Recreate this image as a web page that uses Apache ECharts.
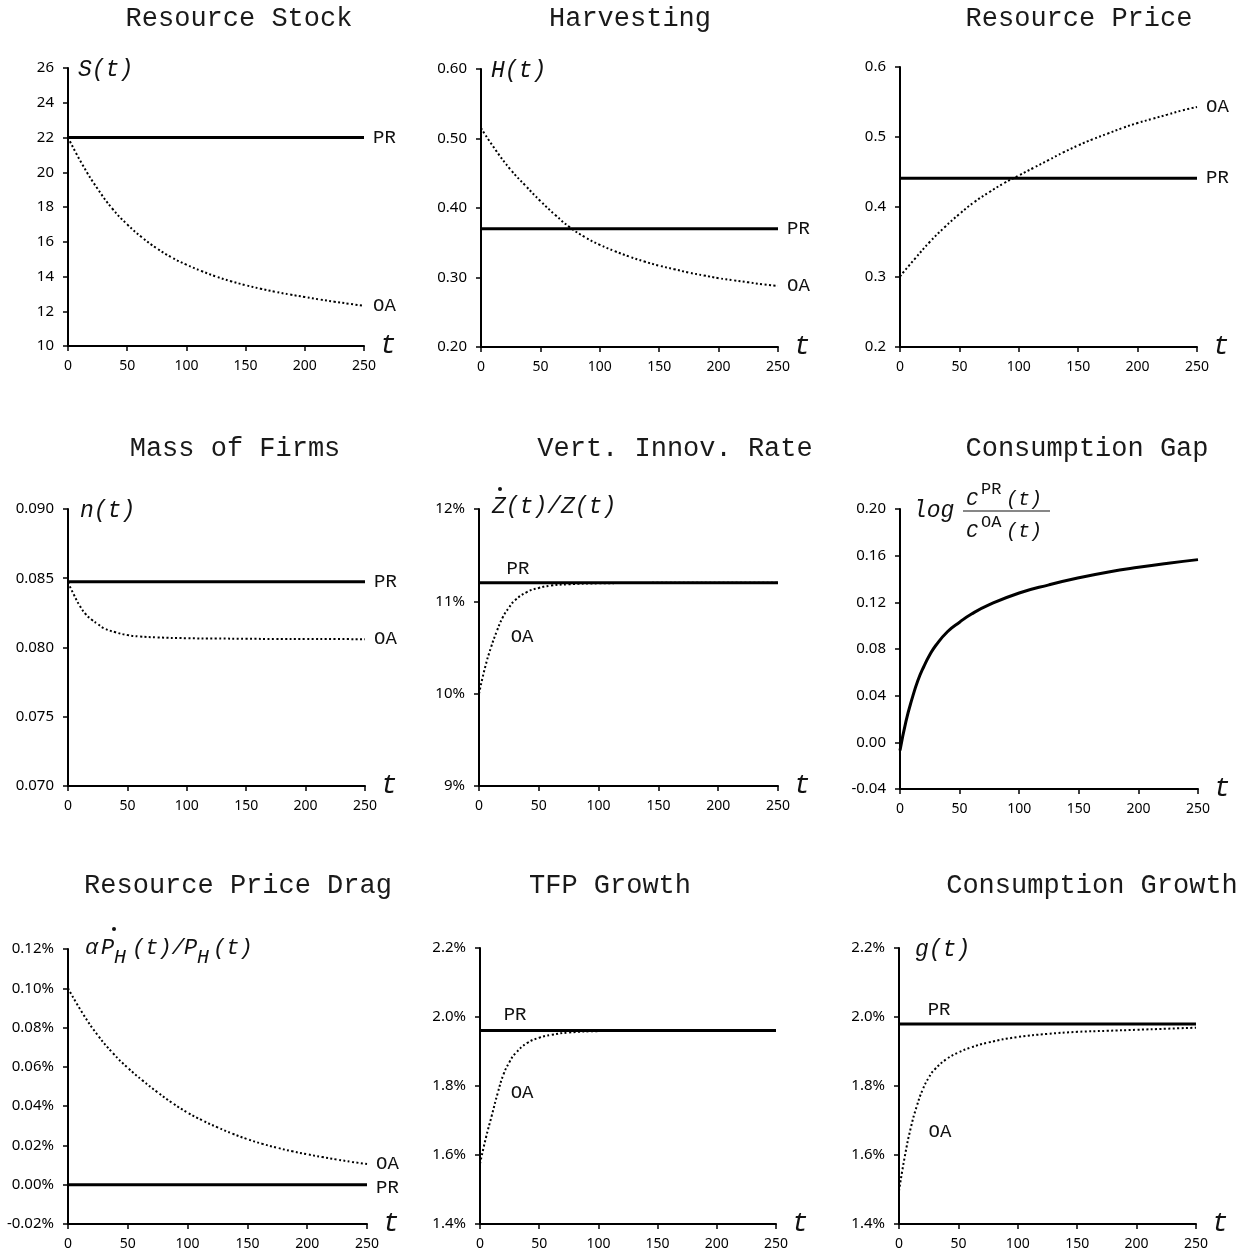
<!DOCTYPE html>
<html>
<head>
<meta charset="utf-8">
<title>Transition dynamics: PR vs OA</title>
<script src="https://cdn.jsdelivr.net/npm/echarts@6/dist/echarts.min.js"></script>
<style>
  html, body { margin: 0; padding: 0; background: #fff; }
  #main { width: 1256px; height: 1255px; }
</style>
</head>
<body>
<div id="main"></div>
<script>
// time points (t) used when reading the curves
var tSlow = [0, 12.5, 25, 37.5, 50, 62.5, 75, 87.5, 100, 112.5, 125, 137.5, 150, 162.5, 175, 187.5, 200, 212.5, 225, 237.5, 250];
var tFast = [0, 5, 10, 15, 20, 25, 30, 40, 50, 60, 75, 100, 125, 150, 175, 200, 225, 250];
var xTicks = [0, 50, 100, 150, 200, 250];

// Resource Stock S(t)
var stockOA = [22.0, 20.4, 19.05, 17.9, 17.0, 16.25, 15.62, 15.1, 14.68, 14.32, 14.0, 13.73, 13.5, 13.3, 13.12, 12.96, 12.82, 12.68, 12.55, 12.43, 12.31];
var stockPR = 22.0;
// Harvesting H(t)
var harvOA = [0.515, 0.483, 0.455, 0.432, 0.410, 0.390, 0.372, 0.358, 0.347, 0.338, 0.330, 0.323, 0.317, 0.312, 0.307, 0.303, 0.299, 0.296, 0.293, 0.290, 0.288];
var harvPR = 0.370;
// Resource Price
var priceOA = [0.301, 0.326, 0.350, 0.371, 0.390, 0.407, 0.421, 0.434, 0.445, 0.456, 0.467, 0.478, 0.488, 0.497, 0.505, 0.513, 0.520, 0.526, 0.532, 0.538, 0.543];
var pricePR = 0.441;
// Mass of Firms n(t)
var firmsOA = [0.0847, 0.0838, 0.0830, 0.0824, 0.0820, 0.0817, 0.0814, 0.0811, 0.0809, 0.0808, 0.08073, 0.08067, 0.08065, 0.08063, 0.08062, 0.08062, 0.08061, 0.0806];
var firmsPR = 0.08475;
// Vert. Innov. Rate (%)
var innovOA = [10.0, 10.28, 10.5, 10.68, 10.83, 10.93, 11.01, 11.1, 11.145, 11.17, 11.185, 11.195, 11.198, 11.2, 11.2, 11.2, 11.2, 11.2];
var innovPR = 11.2;
// Consumption Gap log(C_PR/C_OA)
var gapPath = [-0.007, 0.018, 0.037, 0.053, 0.065, 0.075, 0.083, 0.095, 0.103, 0.110, 0.118, 0.128, 0.135, 0.141, 0.146, 0.150, 0.1535, 0.1566];
// Resource Price Drag (%)
var dragOA = [0.100, 0.087, 0.076, 0.067, 0.0595, 0.053, 0.047, 0.0415, 0.0367, 0.0327, 0.0292, 0.026, 0.0232, 0.0208, 0.0188, 0.017, 0.0155, 0.0141, 0.0128, 0.0116, 0.0105];
var dragPR = 0.0;
// TFP Growth (%)
var tfpOA = [1.575, 1.65, 1.715, 1.78, 1.835, 1.87, 1.895, 1.925, 1.94, 1.948, 1.955, 1.959, 1.96, 1.961, 1.961, 1.961, 1.961, 1.961];
var tfpPR = 1.961;
// Consumption Growth g(t) (%)
var growthOA = [1.496, 1.598, 1.68, 1.742, 1.79, 1.824, 1.848, 1.878, 1.897, 1.911, 1.926, 1.942, 1.951, 1.957, 1.960, 1.963, 1.966, 1.969];
var growthPR = 1.980;

var MONO = '"Courier New", "Liberation Mono", monospace';
var SANS = '"Noto Sans", "Open Sans", sans-serif';

function pairs(ts, vs) {
    return ts.map(function (t, i) { return [t, vs[i]]; });
}
function flat(v) {
    return [[xTicks[0], v], [xTicks[xTicks.length - 1], v]];
}

// panel layout: [left, top, width, height]
var panels = [
    { box: [68, 68, 296, 278], title: 'Resource Stock', cx: 239, ty: 5,
      y: { min: 10, max: 26, interval: 2, fmt: function (v) { return Math.round(v) + ''; } }, name: 'S(t)', namePad: 10 },
    { box: [481, 69, 297, 278], title: 'Harvesting', cx: 630, ty: 5,
      y: { min: 0.2, max: 0.6, interval: 0.1, fmt: function (v) { return v.toFixed(2); } }, name: 'H(t)', namePad: 10 },
    { box: [900, 67, 297, 280], title: 'Resource Price', cx: 1079, ty: 5,
      y: { min: 0.2, max: 0.6, interval: 0.1, fmt: function (v) { return v.toFixed(1); } } },
    { box: [68, 509, 297, 277], title: 'Mass of Firms', cx: 235, ty: 435,
      y: { min: 0.07, max: 0.09, interval: 0.005, fmt: function (v) { return v.toFixed(3); } }, name: 'n(t)', namePad: 12 },
    { box: [479, 509, 299, 277], title: 'Vert. Innov. Rate', cx: 675, ty: 435,
      y: { min: 9, max: 12, interval: 1, fmt: function (v) { return v.toFixed(0) + '%'; } } },
    { box: [900, 509, 298, 280], title: 'Consumption Gap', cx: 1087, ty: 435,
      y: { min: -0.04, max: 0.2, interval: 0.04, fmt: function (v) { return v.toFixed(2); } } },
    { box: [68, 949, 299, 275], title: 'Resource Price Drag', cx: 238, ty: 872,
      y: { min: -0.02, max: 0.12, interval: 0.02, fmt: function (v) { return v.toFixed(2) + '%'; } } },
    { box: [480, 948, 296, 276], title: 'TFP Growth', cx: 610, ty: 872,
      y: { min: 1.4, max: 2.2, interval: 0.2, fmt: function (v) { return v.toFixed(1) + '%'; } } },
    { box: [899, 948, 297, 276], title: 'Consumption Growth', cx: 1092, ty: 872,
      y: { min: 1.4, max: 2.2, interval: 0.2, fmt: function (v) { return v.toFixed(1) + '%'; } }, name: 'g(t)', namePad: 16 }
];

var grids = [], xAxes = [], yAxes = [], titles = [];
panels.forEach(function (p, i) {
    grids.push({ left: p.box[0], top: p.box[1], width: p.box[2], height: p.box[3] });
    titles.push({
        text: p.title, left: p.cx, top: p.ty, textAlign: 'center', padding: 0,
        textStyle: { fontFamily: MONO, fontSize: 27, fontWeight: 'normal', color: '#1a1a1a' }
    });
    xAxes.push({
        gridIndex: i, type: 'value', min: 0, max: 250, interval: 50,
        name: 't', nameLocation: 'end', nameGap: 12,
        nameTextStyle: { fontFamily: MONO, fontStyle: 'italic', fontSize: 27, color: '#111', verticalAlign: 'middle' },
        axisLine: { onZero: false, lineStyle: { color: '#000', width: 2 } },
        axisTick: { show: true, length: 5, lineStyle: { color: '#000', width: 1.5 } },
        axisLabel: { margin: 13, fontFamily: SANS, fontSize: 14, color: '#000' },
        splitLine: { show: false }
    });
    var ya = {
        gridIndex: i, type: 'value', min: p.y.min, max: p.y.max, interval: p.y.interval,
        axisLine: { show: true, onZero: false, lineStyle: { color: '#000', width: 2 } },
        axisTick: { show: true, length: 5, lineStyle: { color: '#000', width: 1.5 } },
        axisLabel: { margin: 14, fontFamily: SANS, fontSize: 15, color: '#000', formatter: p.y.fmt },
        splitLine: { show: false }
    };
    if (p.name) {
        ya.name = p.name;
        ya.nameLocation = 'end';
        ya.nameGap = -2;
        ya.nameTextStyle = {
            fontFamily: MONO, fontStyle: 'italic', fontSize: 23, color: '#111',
            align: 'left', verticalAlign: 'middle', padding: [0, 0, 0, p.namePad]
        };
    }
    yAxes.push(ya);
});

var endLbl = { fontFamily: MONO, fontSize: 19, color: '#111', distance: 9 };
function endLabel(text, extra) {
    return Object.assign({ show: true, formatter: text }, endLbl, extra || {});
}
function prLine(i, v, lbl) {
    return {
        type: 'line', xAxisIndex: i, yAxisIndex: i, data: flat(v), symbol: 'none', silent: true,
        lineStyle: { color: '#000', width: 3 }, endLabel: lbl, z: 3
    };
}
function oaLine(i, ts, vs, lbl) {
    return {
        type: 'line', xAxisIndex: i, yAxisIndex: i, data: pairs(ts, vs), symbol: 'none', silent: true,
        smooth: 0.5,
        lineStyle: { color: '#000', width: 2, type: [2, 2.4] }, endLabel: lbl, z: 2
    };
}
function tag(text, coord) {
    return {
        symbol: 'circle', symbolSize: 0, silent: true,
        label: { show: true, position: 'inside', fontFamily: MONO, fontSize: 19, color: '#111' },
        data: [{ coord: coord, label: { formatter: text } }]
    };
}

var series = [
    prLine(0, stockPR, endLabel('PR')), oaLine(0, tSlow, stockOA, endLabel('OA')),
    prLine(1, harvPR, endLabel('PR')), oaLine(1, tSlow, harvOA, endLabel('OA')),
    prLine(2, pricePR, endLabel('PR')), oaLine(2, tSlow, priceOA, endLabel('OA')),
    prLine(3, firmsPR, endLabel('PR')), oaLine(3, tFast, firmsOA, endLabel('OA')),
    prLine(4, innovPR), oaLine(4, tFast, innovOA),
    {
        type: 'line', xAxisIndex: 5, yAxisIndex: 5, data: pairs(tFast, gapPath), symbol: 'none',
        smooth: 0.5, silent: true, lineStyle: { color: '#000', width: 3 }
    },
    prLine(6, dragPR, endLabel('PR', { offset: [0, 3] })), oaLine(6, tSlow, dragOA, endLabel('OA')),
    prLine(7, tfpPR), oaLine(7, tFast, tfpOA),
    prLine(8, growthPR), oaLine(8, tFast, growthOA)
];
// inline PR / OA tags in the growth panels
series[8].markPoint = tag('PR', [32.6, 11.35]);
series[9].markPoint = tag('OA', [36, 10.61]);
series[13].markPoint = tag('PR', [29.6, 2.006]);
series[14].markPoint = tag('OA', [35.5, 1.78]);
series[15].markPoint = tag('PR', [33.7, 2.02]);
series[16].markPoint = tag('OA', [34.5, 1.667]);

// axis labels with accents, fractions and subscripts
var it23 = 'italic 23px ' + MONO;
var it22 = 'italic 22px ' + MONO;
var it20 = 'italic 20px ' + MONO;
function txt(x, y, s, font) {
    return { type: 'text', x: x, y: y, silent: true,
             style: { text: s, font: font, fill: '#111', align: 'left', verticalAlign: 'middle' } };
}
function dot(x, y) {
    return { type: 'circle', silent: true, shape: { cx: x, cy: y, r: 2 }, style: { fill: '#111' } };
}
var graphics = [
    // Z-dot(t)/Z(t)
    txt(492, 507, 'Z(t)/Z(t)', it23), dot(500, 489),
    // log C^PR(t) / C^OA(t)
    txt(913, 511, 'log', it23),
    txt(966, 500, 'C', it20), txt(981, 489, 'PR', '17px ' + MONO), txt(1006, 500, '(t)', it20),
    { type: 'line', silent: true, shape: { x1: 963, y1: 511, x2: 1050, y2: 511 }, style: { stroke: '#111', lineWidth: 1.2 } },
    txt(966, 532, 'C', it20), txt(981, 522, 'OA', '17px ' + MONO), txt(1006, 532, '(t)', it20),
    // alpha P-dot_H(t)/P_H(t)
    txt(85, 948, '\u03b1', it22), txt(101, 948, 'P', it22), dot(114, 929),
    txt(114, 958, 'H', it20),
    txt(132, 948, '(t)/', it22), txt(184, 948, 'P', it22),
    txt(197, 958, 'H', it20),
    txt(213, 948, '(t)', it22)
];

var chart = echarts.init(document.getElementById('main'), null, { renderer: 'canvas' });
chart.setOption({
    animation: false,
    backgroundColor: '#fff',
    title: titles,
    grid: grids,
    xAxis: xAxes,
    yAxis: yAxes,
    series: series,
    graphic: graphics
});
</script>
</body>
</html>
